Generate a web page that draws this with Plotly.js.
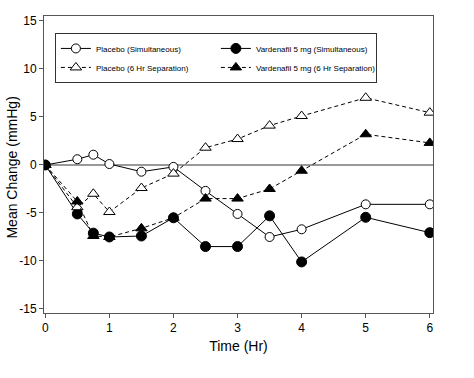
<!DOCTYPE html>
<html>
<head>
<meta charset="utf-8">
<script src="https://cdn.plot.ly/plotly-3.0.1.min.js"></script>
<style>html,body{margin:0;padding:0;background:#fff}#chart{width:474px;height:378px}</style>
</head>
<body>
<div id="chart"></div>
<script>
const timeHr = [0, 0.5, 0.75, 1, 1.5, 2, 2.5, 3, 3.5, 4, 5, 6];
const placeboSim = [0, 0.6, 1.07, 0.1, -0.7, -0.2, -2.7, -5.1, -7.5, -6.7, -4.1, -4.1];
const placeboSep = [0, -4.4, -3.0, -4.9, -2.4, -0.9, 1.8, 2.7, 4.1, 5.1, 7.0, 5.45];
const vardSim = [0, -5.1, -7.1, -7.5, -7.4, -5.5, -8.5, -8.5, -5.3, -10.1, -5.45, -7.05];
const vardSep = [0, -3.8, -7.4, -7.5, -6.6, -5.5, -3.5, -3.5, -2.5, -0.6, 3.2, 2.3];
const seriesNames = ["Placebo (Simultaneous)", "Vardenafil 5 mg (Simultaneous)", "Placebo (6 Hr Separation)", "Vardenafil 5 mg (6 Hr Separation)"];
const yTicks = [-15, -10, -5, 0, 5, 10, 15];
const yTickText = ["-15", "-10", "-5", "0", "5", "10", "15"];
const xTicks = [0, 1, 2, 3, 4, 5, 6];
const yTitle = "Mean Change (mmHg)";
const xTitle = "Time (Hr)";

function tr(y, name, fill, dash, sym, s) {
  return {
    x: timeHr, y: y, name: name, type: 'scatter', mode: 'lines+markers',
    line: {color: '#000', width: 1, dash: dash},
    marker: {symbol: sym, size: s, color: fill, line: {color: '#000', width: 1}}
  };
}
const data = [
  tr(placeboSim, seriesNames[0], '#fff', 'solid', 'circle', 9),
  tr(vardSim, seriesNames[1], '#000', 'solid', 'circle', 10),
  tr(placeboSep, seriesNames[2], '#fff', '4px,3px', 'triangle-up', 10),
  tr(vardSep, seriesNames[3], '#000', '4px,3px', 'triangle-up', 10)
];

const layout = {
  width: 474, height: 378,
  margin: {l: 44, r: 41, t: 16, b: 65},
  paper_bgcolor: '#fff', plot_bgcolor: '#fff',
  font: {family: 'Liberation Sans, Arial, sans-serif', color: '#000'},
  showlegend: true,
  legend: {
    x: 0.028, y: 0.943, xanchor: 'left', yanchor: 'top',
    orientation: 'h', entrywidth: 115, entrywidthmode: 'pixels',
    bgcolor: '#fff', bordercolor: '#333', borderwidth: 1,
    font: {size: 8, color: '#000'}, tracegroupgap: 0
  },
  xaxis: {
    range: [-0.02, 6.05], tickvals: xTicks, ticks: 'outside', ticklen: 4, tickcolor: '#555',
    showline: true, linecolor: '#555', linewidth: 1, mirror: true, showgrid: false, zeroline: false,
    tickfont: {size: 12}, title: {text: xTitle, font: {size: 14}, standoff: 6}, automargin: false
  },
  yaxis: {
    range: [-15.42, 15.52], tickvals: yTicks, ticktext: yTickText, ticks: 'outside', ticklen: 4, tickcolor: '#555',
    showline: true, linecolor: '#555', linewidth: 1, mirror: true, showgrid: false,
    zeroline: true, zerolinecolor: '#999', zerolinewidth: 1.5,
    tickfont: {size: 12}, automargin: false
  },
  annotations: [{
    text: yTitle, textangle: -90, xref: 'paper', yref: 'paper', x: -0.082, y: 0.49,
    xanchor: 'center', yanchor: 'middle', showarrow: false, font: {size: 14, color: '#000'}
  }]
};
Plotly.newPlot('chart', data, layout, {displayModeBar: false, staticPlot: true});
</script>
</body>
</html>
